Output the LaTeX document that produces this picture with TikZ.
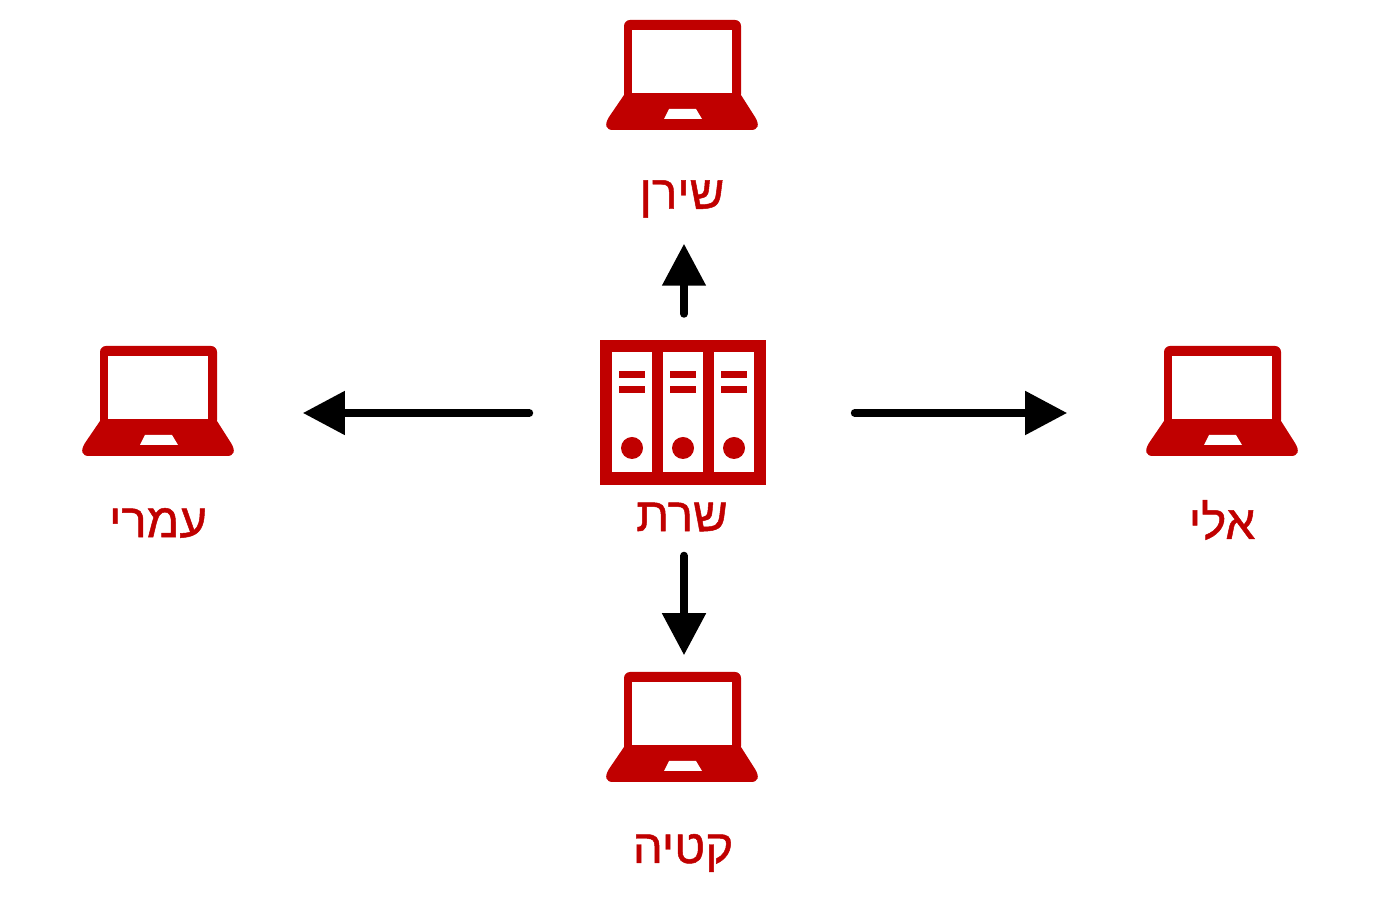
\documentclass[tikz,border=0pt]{standalone}
\usepackage{fontspec}
\setmainfont{Liberation Sans}
\newfontfamily\hebfont[Script=Hebrew,FakeBold=1]{Liberation Sans}
\TeXXeTstate=1
\usetikzlibrary{arrows.meta}
\definecolor{redbrand}{HTML}{C00000}
\newcommand{\heb}[1]{\hebfont\beginR #1\endR}
\tikzset{
    lbl/.style={text=redbrand, font=\fontsize{13.5}{13.5}\selectfont, inner sep=0pt, minimum height=0.6cm, minimum width=0.8cm},
    box/.style={inner sep=0pt, minimum width=1.52cm, minimum height=1.10cm},
    srvbox/.style={inner sep=0pt, minimum width=1.66cm, minimum height=1.45cm},
    flow/.style={line width=0.08cm, line cap=round, -{Triangle[length=0.42cm,width=0.42cm]}},
    laptop/.pic={
        \fill [redbrand, rounded corners=0.06cm] (-58,-55) rectangle (59,25);
        \fill [white] (-50,-45) rectangle (50,18);
        \fill [redbrand]
            (-58,20) -- (59,20) -- (73,42) .. controls (78,50) and (76,55) .. (69,55)
            -- (-69,55) .. controls (-76,55) and (-78,50) .. (-73,42) -- (-58,20) -- cycle;
        \fill [redbrand] (-58,18) rectangle (59,21);
        \fill [white] (-13,34) -- (14,34) -- (20,44) -- (-18,44) -- cycle;
    }
}
\begin{document}
\begin{tikzpicture}[x=0.01cm,y=-0.01cm]
            \useasboundingbox (0,0) rectangle (1400,901);
            % laptops
            \pic at (682,75) {laptop};
            \node [box] (lapN) at (682,75) {};
            \pic at (158,401) {laptop};
            \node [box] (lapW) at (158,401) {};
            \pic at (1222,401) {laptop};
            \node [box] (lapE) at (1222,401) {};
            \pic at (682,727) {laptop};
            \node [box] (lapS) at (682,727) {};
            % server
            \fill [redbrand] (600,340) rectangle (766,485);
            \foreach \x in {632,683,734} {
                \fill [white] (\x-20,352) rectangle (\x+20,472);
                \fill [redbrand] (\x-13,371) rectangle (\x+13,378);
                \fill [redbrand] (\x-13,386) rectangle (\x+13,393);
                \fill [redbrand] (\x,448) circle (11);
            }
            \node [srvbox] (srv) at (684,413) {};
            % labels
            \node [lbl] (lblN) at (682,199) {\heb{שירן}};
            \node [lbl] (lblW) at (158,523) {\heb{עמרי}};
            \node [lbl] (lblE) at (1222,520) {\heb{אלי}};
            \node [lbl] (lblS) at (683,853) {\heb{קטיה}};
            \node [lbl] (lblC) at (682,517) {\heb{שרת}};
            % arrows
            \draw [flow, shorten <=0.26cm, shorten >=0.14cm] (srv.north) -- (lblN.south -| srv.north);
            \draw [flow, shorten <=0.71cm, shorten >=0.68cm] (srv.west) -- (lapW.east |- srv.west);
            \draw [flow, shorten <=0.87cm, shorten >=0.78cm] (srv.east) -- (lapE.west |- srv.east);
            \draw [flow, shorten <=0.08cm, shorten >=0.16cm] (lblC.south -| srv.south) -- (lapS.north -| srv.south);
\end{tikzpicture}
\end{document}
